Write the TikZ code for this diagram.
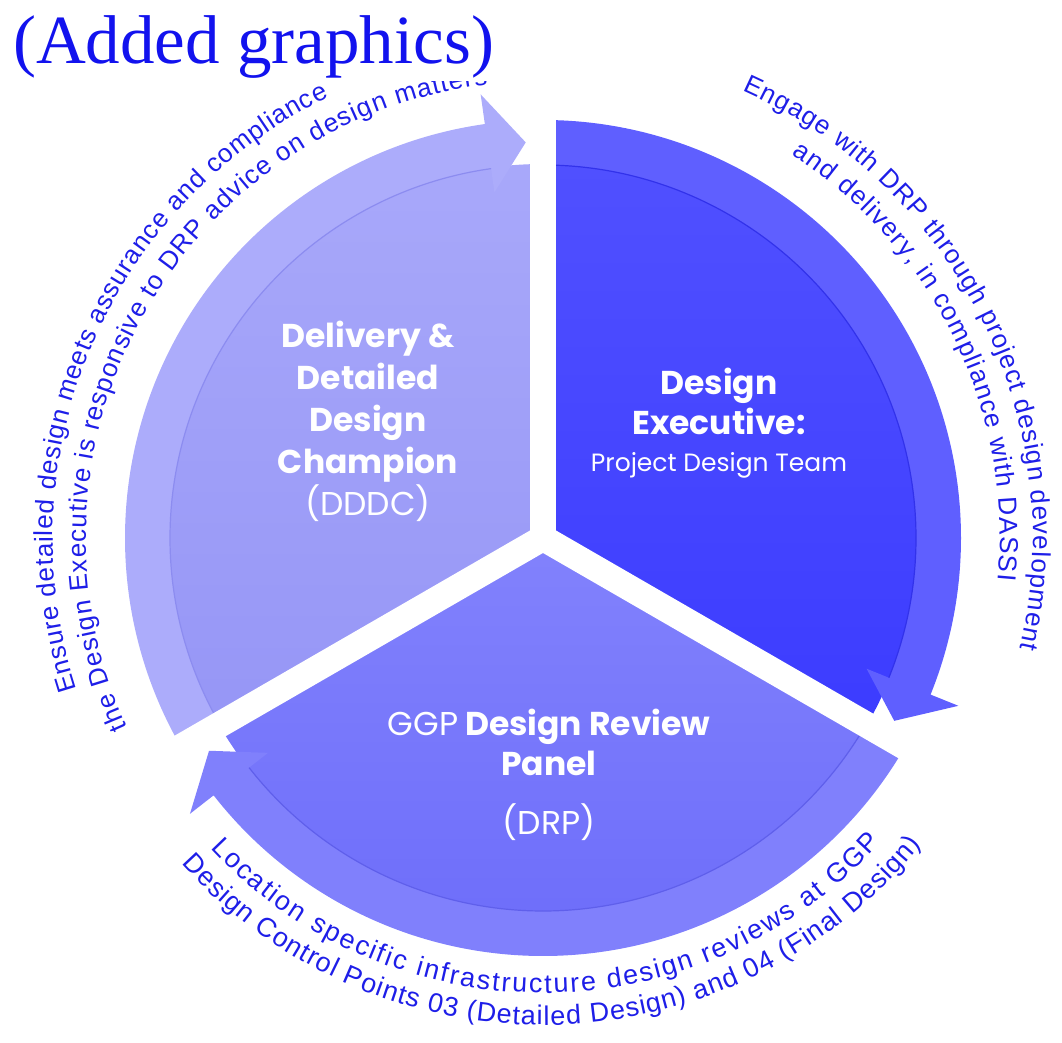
\documentclass[tikz,border=0pt]{standalone}
\usepackage{fontspec}
\setmainfont{Poppins}
\newfontfamily\titlefont{Liberation Serif}
\newfontfamily\curvefamily{Liberation Sans}
\usetikzlibrary{decorations.text}
\definecolor{lband}{RGB}{172,172,251}
\definecolor{lintop}{RGB}{168,168,250}
\definecolor{linbot}{RGB}{150,150,246}
\definecolor{ledge}{RGB}{140,140,240}
\definecolor{rband}{RGB}{95,95,255}
\definecolor{rintop}{RGB}{80,80,255}
\definecolor{rinbot}{RGB}{60,60,255}
\definecolor{redge}{RGB}{50,50,235}
\definecolor{bband}{RGB}{128,128,252}
\definecolor{bintop}{RGB}{130,130,252}
\definecolor{binbot}{RGB}{108,108,250}
\definecolor{bedge}{RGB}{95,95,235}
\definecolor{curveblue}{RGB}{30,30,232}
\definecolor{titleblue}{RGB}{18,18,238}
\newcommand\cfont{\curvefamily\fontsize{26}{30}\selectfont\color{curveblue}}
\newcommand\cfontb{\curvefamily\fontsize{27}{30}\selectfont\color{curveblue}}
\tikzset{
  gapline/.style={white, line width=26pt},
  seclabel/.style={text=white, align=center, inner sep=0pt, anchor=north},
  edgeline/.style={line width=1.2pt},
  curvetext/.style={decorate, decoration={text along path, text align={fit to path}, text={#1}}},
}
\begin{document}
\begin{tikzpicture}[x=1pt,y=1pt]
\useasboundingbox (0,0) rectangle (1062,1043);
\coordinate (C) at (543,505);
\begin{scope}[shift={(C)}]
  % left sector (DDDC)
  \shade[top color=lintop, bottom color=linbot] (0,0) -- (90:374pt) arc[start angle=90,end angle=210,radius=374pt] -- cycle;
  \fill[lband] (210:418pt) arc[start angle=210,end angle=98,radius=418pt] -- (98:448pt) -- (92.5:396pt) -- (98:349pt) -- (98:373pt) arc[start angle=98,end angle=210,radius=373pt] -- cycle;
  \draw[ledge, edgeline] (210:373pt) arc[start angle=210,end angle=98,radius=373pt];
  % right sector (Design Executive)
  \shade[top color=rintop, bottom color=rinbot] (0,0) -- (90:374pt) arc[start angle=90,end angle=-30,radius=374pt] -- cycle;
  \fill[rband] (90:418pt) arc[start angle=90,end angle=-22,radius=418pt] -- (-22:448pt) -- (-27.5:396pt) -- (-22:349pt) -- (-22:373pt) arc[start angle=-22,end angle=90,radius=373pt] -- cycle;
  \draw[redge, edgeline] (90:373pt) arc[start angle=90,end angle=-22,radius=373pt];
  % bottom sector (DRP)
  \shade[top color=bintop, bottom color=binbot] (0,0) -- (210:374pt) arc[start angle=210,end angle=330,radius=374pt] -- cycle;
  \fill[bband] (330:418pt) arc[start angle=330,end angle=218,radius=418pt] -- (218:448pt) -- (212.5:396pt) -- (218:349pt) -- (218:373pt) arc[start angle=218,end angle=330,radius=373pt] -- cycle;
  \draw[bedge, edgeline] (330:373pt) arc[start angle=330,end angle=218,radius=373pt];
  % gaps
  \draw[gapline] (0,0) -- (90:455pt);
  \draw[gapline] (0,0) -- (210:455pt);
  \draw[gapline] (0,0) -- (330:455pt);
  % curved texts
  \path[curvetext={|\cfont|Ensure detailed design meets assurance and compliance}] (198:490pt) arc[start angle=198,end angle=116,radius=490pt];
  \path[curvetext={|\cfont|the Design Executive is responsive to DRP advice on design matters}] (204.5:457pt) arc[start angle=204.5,end angle=97,radius=457pt];
  \path[curvetext={|\cfont|Engage with DRP through project design development}] (66:490pt) arc[start angle=66,end angle=-13,radius=490pt];
  \path[curvetext={|\cfont|and delivery, in compliance with DASSI}] (57:457pt) arc[start angle=57,end angle=-5.3,radius=457pt];
  \path[curvetext={|\cfontb|Location specific infrastructure design reviews at GGP}] (223:455pt) arc[start angle=223,end angle=318,radius=455pt];
  \path[curvetext={|\cfontb|Design Control Points 03 (Detailed Design) and 04 (Final Design)}] (222:487pt) arc[start angle=222,end angle=321,radius=487pt];
\end{scope}
% sector labels
\node[seclabel, font=\fontsize{33}{42}\selectfont\bfseries] (dddc) at (368,722) {Delivery \&\\Detailed\\Design\\Champion\\{\mdseries (DDDC)}};
\node[seclabel, font=\fontsize{33}{40}\selectfont\bfseries] (desexec) at (719,675) {Design\\Executive:\\[-3pt]{\mdseries\fontsize{25}{30}\selectfont Project Design Team}};
\node[seclabel, font=\fontsize{33}{40}\selectfont\bfseries] (drp) at (549,334) {{\mdseries GGP} Design Review\\Panel\\[19pt]{\mdseries (DRP)}};
% title
\node[font=\titlefont\fontsize{69}{80}\selectfont, text=titleblue, fill=white, inner sep=2pt, anchor=base west] (title) at (11,979) {(Added graphics)};
\end{tikzpicture}
\end{document}
